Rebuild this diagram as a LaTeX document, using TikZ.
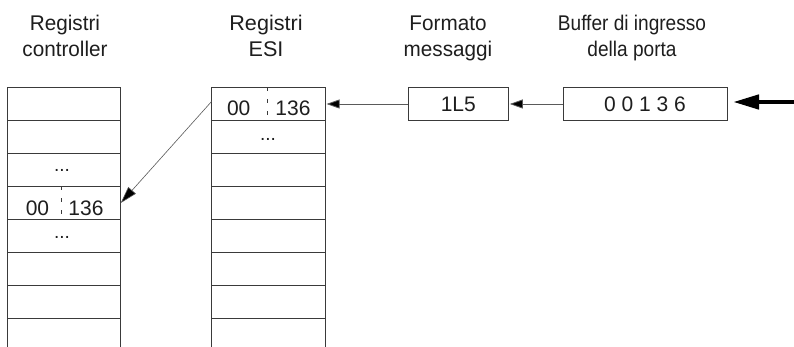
\documentclass[tikz,border=0pt]{standalone}
\usepackage{fontspec}
\setmainfont{Liberation Sans}
\usetikzlibrary{arrows.meta}
\definecolor{boxline}{HTML}{3A3A3A}
\definecolor{wire}{HTML}{5A5A5A}
\definecolor{ink}{HTML}{1E1E1E}
% two-line heading, set a little taller than wide
\newcommand{\headtext}[3][1.15]{\scalebox{#1}[1.18]{\begin{tabular}{@{}c@{}}#2\\#3\end{tabular}}}
\tikzset{
  cell/.style={draw=boxline, line width=0.9pt, minimum width=113.5pt, minimum height=33pt,
    inner sep=0pt, outer sep=0pt},
  msgbox/.style={draw=boxline, line width=0.9pt, minimum height=32.5pt, inner sep=0pt,
    outer sep=0pt, font=\fontsize{21}{24}\selectfont, text=ink},
  title/.style={anchor=north, inner sep=0pt, text=ink,
    font=\fontsize{18}{22.4}\selectfont},
  val/.style={anchor=base, inner sep=0pt, text=ink, font=\fontsize{21}{24}\selectfont},
  dots/.style={inner sep=0pt, text=ink, font=\fontsize{19}{22}\selectfont},
  divider/.style={draw=boxline, line width=0.8pt, dash pattern=on 4pt off 8pt},
  thin/.style={draw=wire, line width=0.8pt, -{Triangle[length=13pt,width=9pt,fill=black]}},
  diag/.style={draw=wire, line width=0.6pt, -{Triangle[length=17pt,width=10pt,fill=black]}},
  thick/.style={draw=black, line width=4.5pt, -{Triangle[length=26pt,width=14pt]}}
}
\begin{document}
\begin{tikzpicture}[x=1pt, y=-1pt]
  \clip (0,0) rectangle (794,347);
  \fill[white] (0,0) rectangle (794,347);

  % column titles
  \node[title] (tctrl) at (65,11.5) {\headtext{Registri}{controller}};
  \node[title] (tesi)  at (266,11.5) {\headtext[1.2]{Registri}{ESI}};
  \node[title] (tfmt)  at (448,11.5) {\headtext{Formato}{messaggi}};
  \node[title] (tbuf)  at (632,11.5) {\headtext[1.06]{Buffer di ingresso}{della porta}};

  % controller registers
  \foreach \i in {1,...,8} {
    \node[cell] (c\i) at (64, {87.5 + 33*(\i-1) + 16.5}) {};
  }
  % ESI registers
  \foreach \i in {1,...,8} {
    \node[cell] (e\i) at (268.3, {87.5 + 33*(\i-1) + 16.5}) {};
  }

  % message format and input buffer
  \node[msgbox, minimum width=100pt] (fmt) at (458.3,104) {1L5};
  \node[msgbox, minimum width=164pt] (buf) at (645,104) {0 0 1 3 6};
  \coordinate (inport) at (794,102);

  % register contents
  \draw[divider] (267,87.5) -- (267,120.5);
  \node[val] (ev1) at (238.7,115.5) {00};
  \node[val] (ev2) at (293,115.5) {136};
  \node[dots] (ed) at (268,139) {...};

  \node[dots] (cd1) at (62,170) {...};
  \draw[divider] (61.7,186.5) -- (61.7,219.5);
  \node[val] (cv1) at (37.5,215) {00};
  \node[val] (cv2) at (86,215) {136};
  \node[dots] (cd2) at (62,237) {...};

  % data flow
  \draw[thick, shorten >=6pt] (inport) -- (buf.east |- inport);
  \draw[thin, shorten >=1.5pt] (buf.west) -- (fmt.east);
  \draw[thin, shorten >=1.5pt] (fmt.west) -- (e1.east);
  \draw[diag] ([yshift=2.5pt]e1.west) -- (c4.east);
\end{tikzpicture}
\end{document}
